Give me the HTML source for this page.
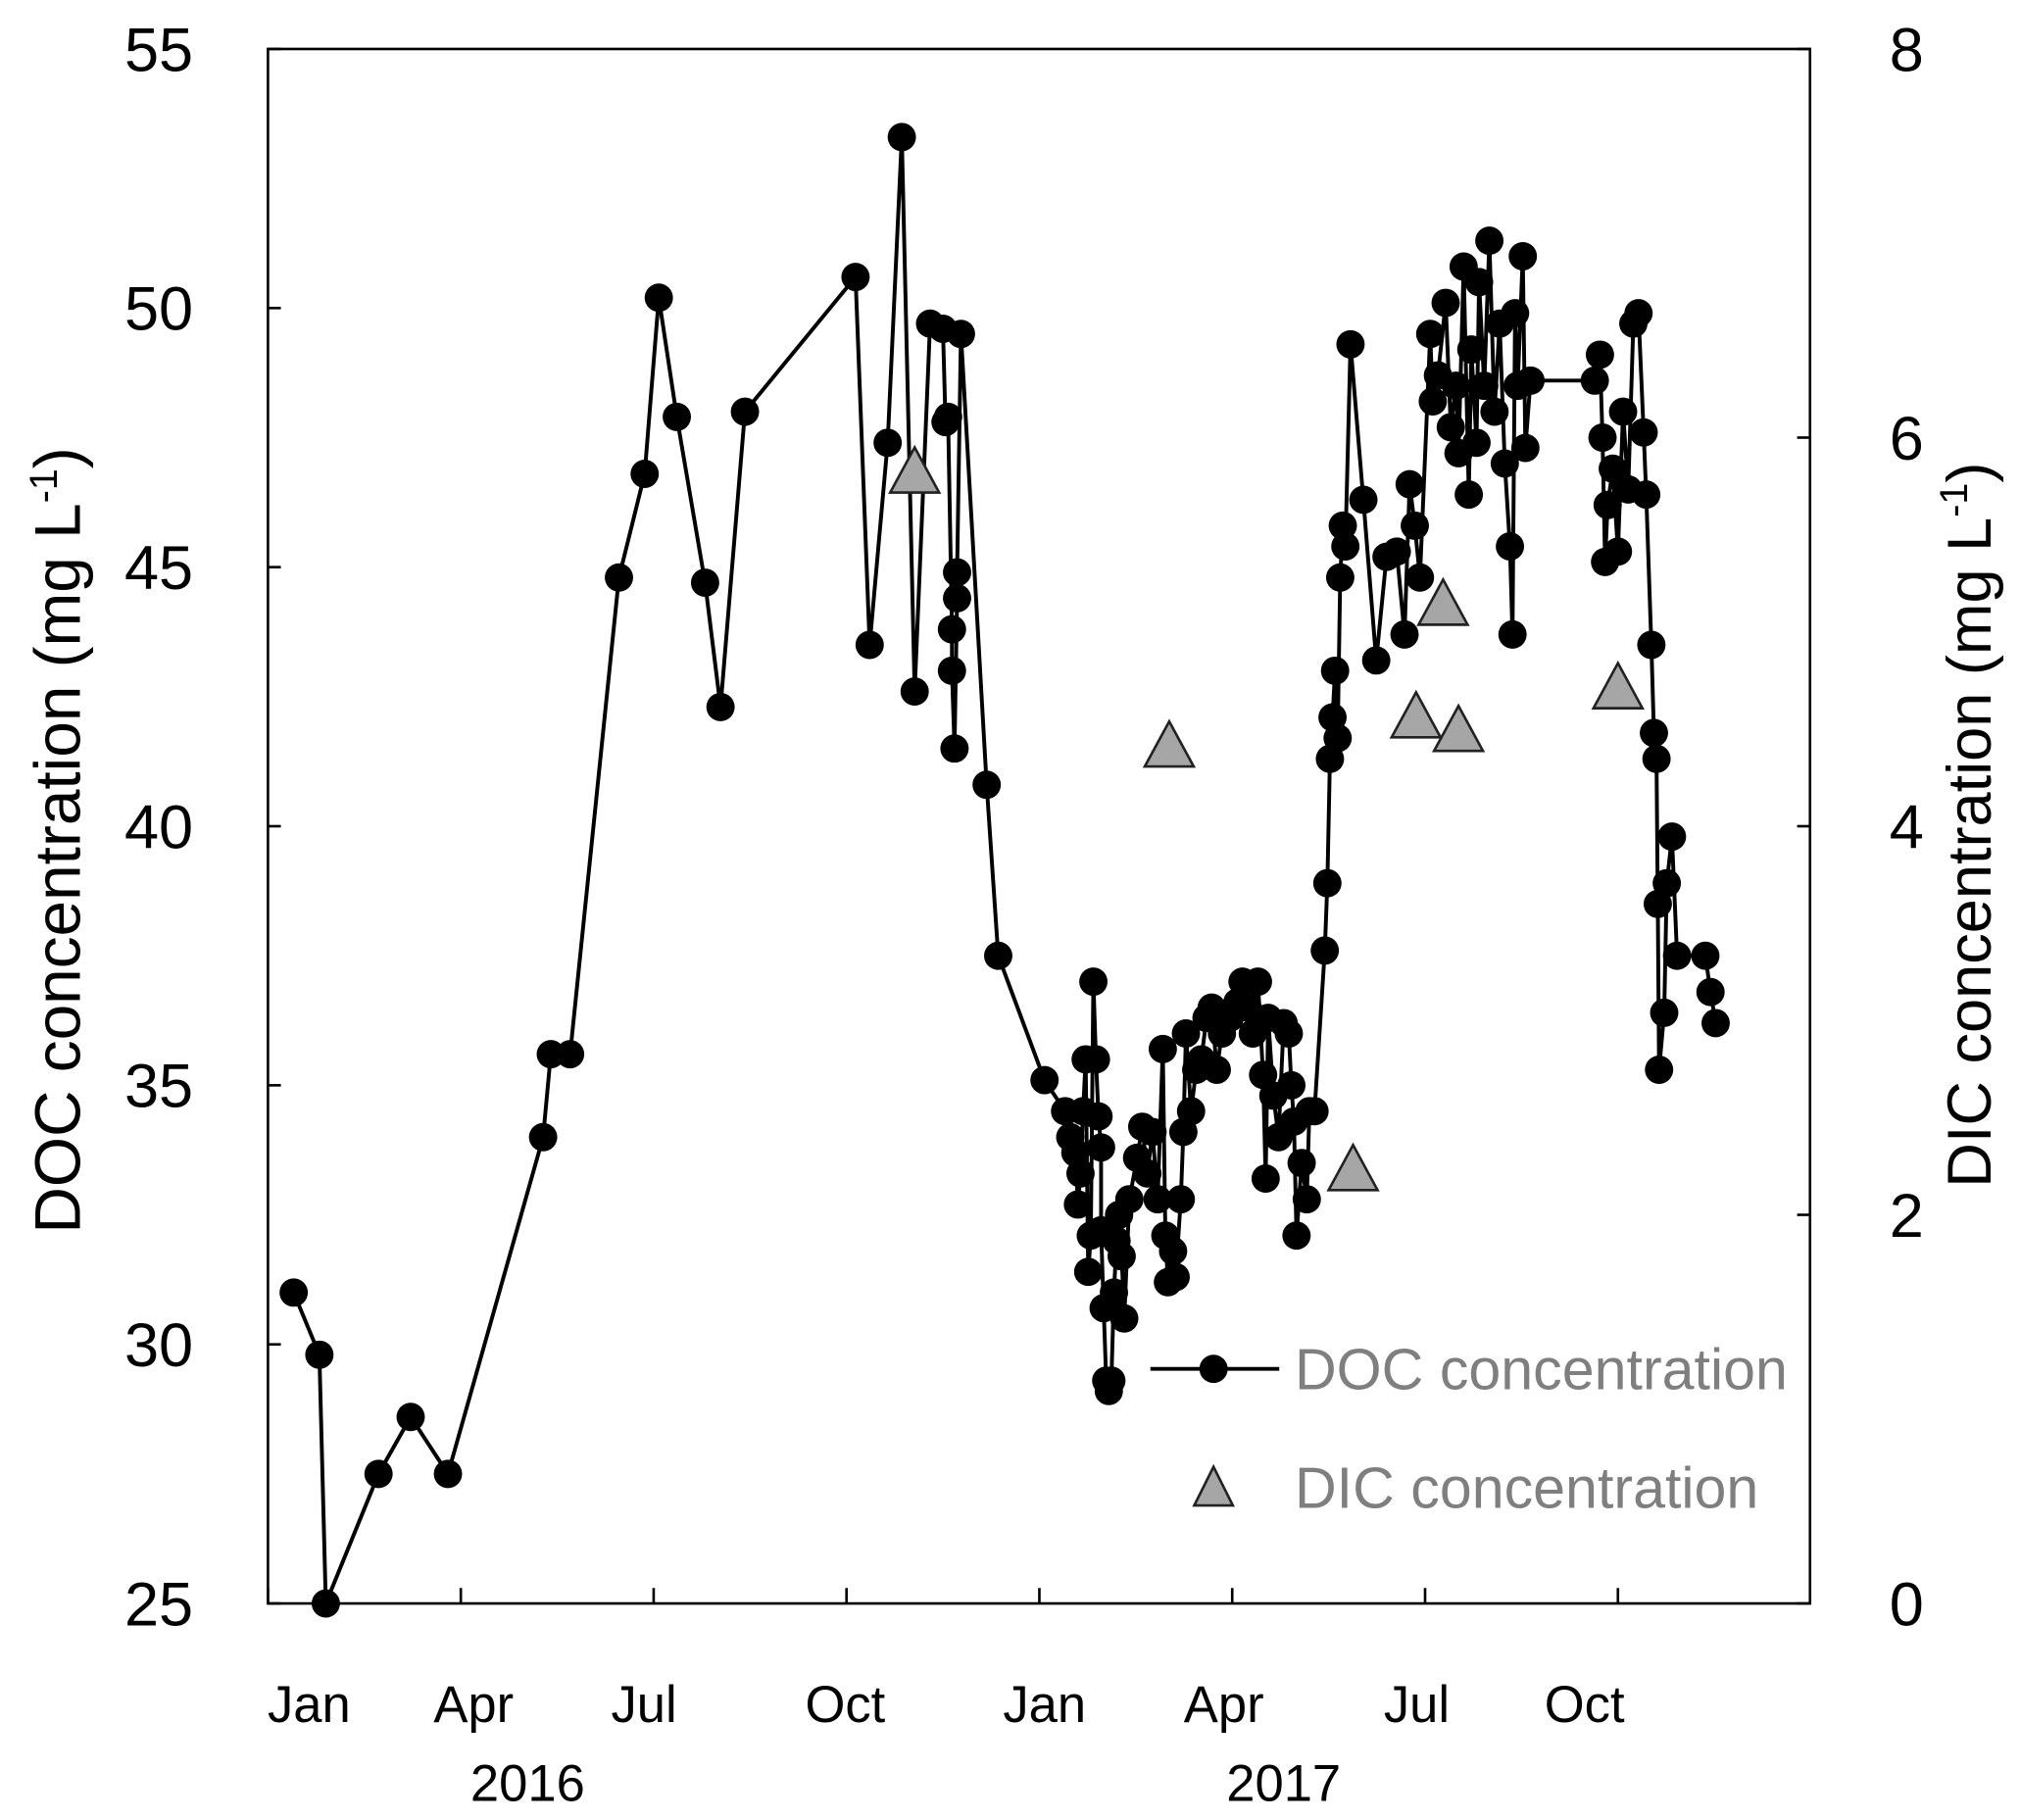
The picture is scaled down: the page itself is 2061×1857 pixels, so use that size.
<!DOCTYPE html>
<html><head><meta charset="utf-8"><style>
html,body{margin:0;padding:0;background:#fff}
svg{display:block}
text{font-family:"Liberation Sans",sans-serif}
</style></head><body>
<svg id="chart" width="2061" height="1857" viewBox="0 0 1568 1412" preserveAspectRatio="none" xmlns="http://www.w3.org/2000/svg">
<rect x="0" y="0" width="1568" height="1412" fill="#fff"/>
<g id="axes"></g>
<g id="series"></g>
<g id="legend">
  <line x1="893" y1="1062" x2="993" y2="1062" stroke="#000" stroke-width="3"/>
  <circle cx="942" cy="1062" r="11" fill="#000"/>
  <text x="1005" y="1078" font-size="45" fill="#7f7f7f">DOC concentration</text>
  <polygon points="942,1138 927,1168 957,1168" fill="#a6a6a6" stroke="#222" stroke-width="2"/>
  <text x="1005" y="1170" font-size="45" fill="#7f7f7f">DIC concentration</text>
</g>
</svg>
<script>
const docMonths=[0.4,0.8,0.9,1.72,2.22,2.8,4.28,4.4,4.7,5.46,5.86,6.08,6.36,6.8,7.04,7.42,9.14,9.36,9.64,9.86,10.06,10.3,10.5,10.54,10.58,10.64,10.64,10.68,10.72,10.72,10.78,11.18,11.36,12.08,
12.4,12.48,12.56,12.6,12.64,12.68,12.72,12.76,12.8,12.84,12.88,12.92,12.96,12.96,13.0,13.04,13.08,13.12,13.16,13.2,13.24,13.28,13.32,13.4,13.52,13.6,13.68,13.76,13.84,13.92,13.96,14.0,14.08,14.12,14.2,14.24,14.28,14.36,14.44,14.52,14.6,14.68,14.76,14.84,14.96,15.08,15.16,15.24,15.32,15.4,15.48,15.52,15.56,15.64,15.72,15.8,15.88,15.92,15.96,16.0,16.08,16.16,16.2,16.28,
16.44,16.48,16.52,16.56,16.6,16.64,16.68,16.72,16.76,16.84,17.04,17.24,17.4,17.56,17.68,17.76,17.84,17.92,18.08,18.12,18.2,18.32,18.4,18.48,18.52,18.6,18.68,18.72,18.8,18.84,18.92,19.0,19.08,19.16,19.24,19.32,19.36,19.4,19.44,19.52,19.56,19.64,
20.64,20.72,20.76,20.8,20.84,20.92,21.0,21.08,21.16,21.24,21.32,21.4,21.44,21.52,21.56,21.6,21.62,21.64,21.72,21.76,21.84,21.92,22.36,22.44,22.52];
const docValues=[31.0,29.8,25.0,27.5,28.6,27.5,34.0,35.6,35.6,44.8,46.8,50.2,47.9,44.7,42.3,48.0,50.6,43.5,47.4,53.3,42.6,49.7,49.6,47.8,47.9,43.8,43.0,41.5,44.4,44.9,49.5,40.8,37.5,35.1,
34.5,34.0,33.7,32.7,33.3,34.5,35.5,31.4,32.1,37.0,35.5,34.4,33.8,32.2,30.7,29.3,29.1,29.3,31.0,32.0,32.5,31.7,30.5,32.8,33.6,34.2,33.3,34.1,32.8,35.7,32.1,31.2,31.8,31.3,32.8,34.1,36.0,34.5,35.3,35.5,36.3,36.5,35.3,36.0,36.3,36.6,37.0,36.5,36.0,37.0,35.2,33.2,36.3,34.8,34.0,36.2,36.0,35.0,34.3,32.1,33.5,32.8,34.5,34.5,
37.6,38.9,41.3,42.1,43.0,41.7,44.8,45.8,45.4,49.3,46.3,43.2,45.2,45.3,43.7,46.6,45.8,44.8,49.5,48.2,48.7,50.1,47.7,48.5,47.2,50.8,46.4,49.2,47.4,50.5,48.5,51.3,48.0,49.7,47.0,45.4,43.7,49.9,48.5,51.0,47.3,48.6,
48.6,49.1,47.5,45.1,46.2,46.9,45.3,48.0,46.5,49.7,49.9,47.6,46.4,43.5,41.8,41.3,38.5,35.3,36.4,38.9,39.8,37.5,37.5,36.8,36.2];
const dicMonths=[10.06,14.02,16.88,17.86,18.28,18.52,21.0];
const dicValues=[5.83,4.42,2.24,4.57,5.15,4.5,4.72];
const leftTicks=[25,30,35,40,45,50,55];
const rightTicks=[0,2,4,6,8];
const monthTicks=[0,3,6,9,12,15,18,21];
const labelMonths=[0.64,3.2,5.85,8.98,12.08,14.87,17.87,20.48];
const monthLabels=["Jan","Apr","Jul","Oct","Jan","Apr","Jul","Oct"];
const yearMonths=[4.04,15.8];
const yearLabels=["2016","2017"];

const L=208,R=1405,T=38,B=1244;
const xS=m=>L+m*49.9;
const yL=v=>B-(v-25)/30*(B-T);
const yR=v=>B-v/8*(B-T);
const NS="http://www.w3.org/2000/svg";
function mk(tag,attrs,parent,txt){const e=document.createElementNS(NS,tag);for(const k in attrs)e.setAttribute(k,attrs[k]);if(txt!==undefined)e.textContent=txt;parent.appendChild(e);return e;}
const ax=document.getElementById('axes'), se=document.getElementById('series');
const frame=mk('rect',{x:L,y:T,width:R-L,height:B-T,fill:'none',stroke:'#000','stroke-width':2},ax);


leftTicks.forEach(v=>{
  mk('line',{x1:L,x2:L+10,y1:yL(v),y2:yL(v),stroke:'#000','stroke-width':2},ax);
  const t=mk('text',{x:150,y:yL(v)+17,'font-size':48,'text-anchor':'end'},ax,String(v));
  
  
});
rightTicks.forEach(v=>{
  mk('line',{x1:R-10,x2:R,y1:yR(v),y2:yR(v),stroke:'#000','stroke-width':2},ax);
  const t=mk('text',{x:1480,y:yR(v)+17,'font-size':48,'text-anchor':'middle'},ax,String(v));
  
  
});
monthTicks.forEach((m,i)=>{
  mk('line',{x1:xS(m),x2:xS(m),y1:B-12,y2:B,stroke:'#000','stroke-width':2},ax);
});
labelMonths.forEach((m,i)=>{
  const t=mk('text',{x:xS(m),y:1336,'font-size':40,'text-anchor':'middle'},ax,monthLabels[i]);
  
  
});
yearMonths.forEach((m,i)=>{
  const t=mk('text',{x:xS(m),y:1397,'font-size':40,'text-anchor':'middle'},ax,yearLabels[i]);
  
  
});
const yt=mk('text',{x:0,y:0,'font-size':50,'text-anchor':'middle',transform:'translate(62,652) rotate(-90)'},ax,'');


yt.innerHTML='DOC concentration (mg L<tspan dy="-18" font-size="30">-1</tspan><tspan dy="18">)</tspan>';
const yt2=mk('text',{x:0,y:0,'font-size':48,'text-anchor':'middle',transform:'translate(1545,640) rotate(-90)'},ax,'');


yt2.innerHTML='DIC concentration (mg L<tspan dy="-18" font-size="30">-1</tspan><tspan dy="18">)</tspan>';

const line=mk('polyline',{points:docMonths.map((m,i)=>xS(m)+','+yL(docValues[i])).join(' '),fill:'none',stroke:'#000','stroke-width':3},se);


docMonths.forEach((m,i)=>{
  const c=mk('circle',{cx:xS(m),cy:yL(docValues[i]),r:11,fill:'#000'},se);
  
  
});
dicMonths.forEach((m,i)=>{
  const x=xS(m),y=yR(dicValues[i]);
  const p=mk('polygon',{points:`${x},${y-18} ${x-19},${y+17} ${x+19},${y+17}`,fill:'#a6a6a6',stroke:'#222','stroke-width':2},se);
  
  
});
</script>
</body></html>
